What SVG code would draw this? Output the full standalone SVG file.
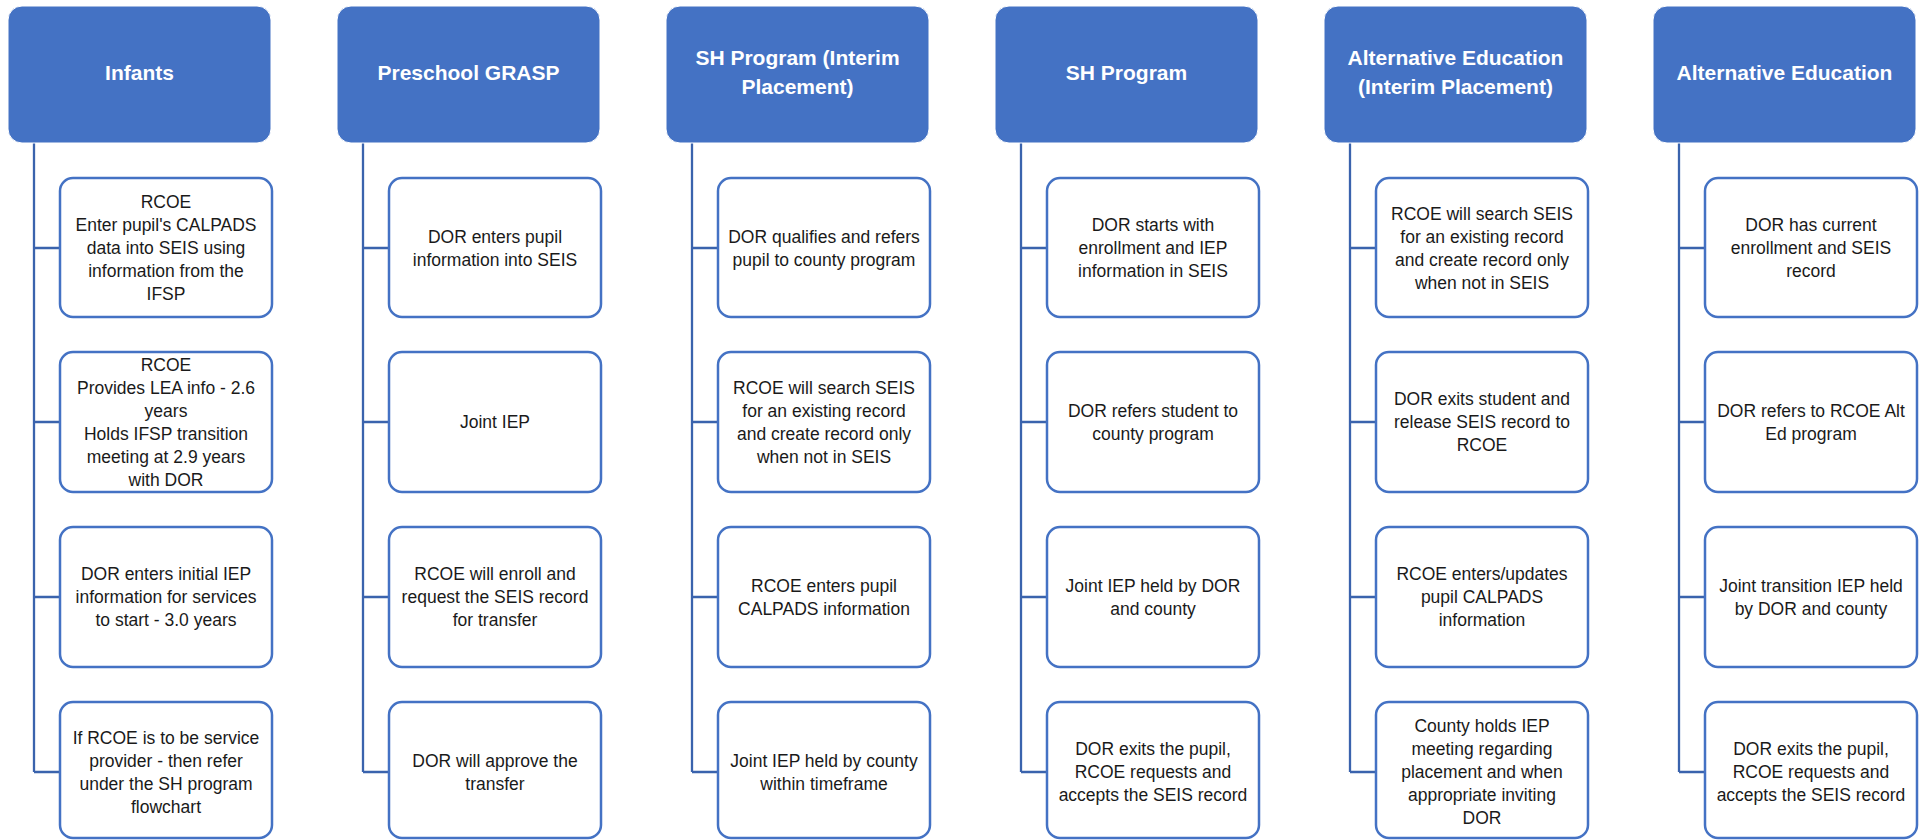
<svg xmlns="http://www.w3.org/2000/svg" width="1923" height="840" viewBox="0 0 1923 840">
<style>
.hdr{fill:#4472C4;stroke:#ffffff;stroke-width:1}
.box{fill:#ffffff;stroke:#4472C4;stroke-width:2.5}
.ht{font-family:"Liberation Sans",Arial,sans-serif;font-weight:bold;font-size:21px;fill:#ffffff;text-anchor:middle}
.bt{font-family:"Liberation Sans",Arial,sans-serif;font-size:17.5px;fill:#1a1a1a;text-anchor:middle}
.ln{fill:none;stroke:#3A63AD;stroke-width:2.3}
</style>
<rect width="1923" height="840" fill="#ffffff"/>
<g id="connectors">
<path class="ln" d="M34 143V772M34 248H60M34 422H60M34 597H60M34 772H60"/>
<path class="ln" d="M363 143V772M363 248H389M363 422H389M363 597H389M363 772H389"/>
<path class="ln" d="M692 143V772M692 248H718M692 422H718M692 597H718M692 772H718"/>
<path class="ln" d="M1021 143V772M1021 248H1047M1021 422H1047M1021 597H1047M1021 772H1047"/>
<path class="ln" d="M1350 143V772M1350 248H1376M1350 422H1376M1350 597H1376M1350 772H1376"/>
<path class="ln" d="M1679 143V772M1679 248H1705M1679 422H1705M1679 597H1705M1679 772H1705"/>
</g>
<!-- Column 1 -->
<g id="h1"><rect class="hdr" x="8" y="6" width="263" height="137" rx="14"/><text class="ht" x="139.5" y="80">Infants</text></g>
<g id="c1n1"><rect class="box" x="60" y="178" width="212" height="139" rx="13"/><text class="bt" x="166" y="208"><tspan x="166">RCOE</tspan><tspan x="166" dy="23">Enter pupil's CALPADS</tspan><tspan x="166" dy="23">data into SEIS using</tspan><tspan x="166" dy="23">information from the</tspan><tspan x="166" dy="23">IFSP</tspan></text></g>
<g id="c1n2"><rect class="box" x="60" y="352" width="212" height="140" rx="13"/><text class="bt" x="166" y="370.5"><tspan x="166">RCOE</tspan><tspan x="166" dy="23">Provides LEA info - 2.6</tspan><tspan x="166" dy="23">years</tspan><tspan x="166" dy="23">Holds IFSP transition</tspan><tspan x="166" dy="23">meeting at 2.9 years</tspan><tspan x="166" dy="23">with DOR</tspan></text></g>
<g id="c1n3"><rect class="box" x="60" y="527" width="212" height="140" rx="13"/><text class="bt" x="166" y="580"><tspan x="166">DOR enters initial IEP</tspan><tspan x="166" dy="23">information for services</tspan><tspan x="166" dy="23">to start - 3.0 years</tspan></text></g>
<g id="c1n4"><rect class="box" x="60" y="702" width="212" height="136" rx="13"/><text class="bt" x="166" y="743.5"><tspan x="166">If RCOE is to be service</tspan><tspan x="166" dy="23">provider - then refer</tspan><tspan x="166" dy="23">under the SH program</tspan><tspan x="166" dy="23">flowchart</tspan></text></g>
<!-- Column 2 -->
<g id="h2"><rect class="hdr" x="337" y="6" width="263" height="137" rx="14"/><text class="ht" x="468.5" y="80">Preschool GRASP</text></g>
<g id="c2n1"><rect class="box" x="389" y="178" width="212" height="139" rx="13"/><text class="bt" x="495" y="242.5"><tspan x="495">DOR enters pupil</tspan><tspan x="495" dy="23">information into SEIS</tspan></text></g>
<g id="c2n2"><rect class="box" x="389" y="352" width="212" height="140" rx="13"/><text class="bt" x="495" y="428">Joint IEP</text></g>
<g id="c2n3"><rect class="box" x="389" y="527" width="212" height="140" rx="13"/><text class="bt" x="495" y="580"><tspan x="495">RCOE will enroll and</tspan><tspan x="495" dy="23">request the SEIS record</tspan><tspan x="495" dy="23">for transfer</tspan></text></g>
<g id="c2n4"><rect class="box" x="389" y="702" width="212" height="136" rx="13"/><text class="bt" x="495" y="766.5"><tspan x="495">DOR will approve the</tspan><tspan x="495" dy="23">transfer</tspan></text></g>
<!-- Column 3 -->
<g id="h3"><rect class="hdr" x="666" y="6" width="263" height="137" rx="14"/><text class="ht" x="797.5" y="65"><tspan x="797.5">SH Program (Interim</tspan><tspan x="797.5" dy="29">Placement)</tspan></text></g>
<g id="c3n1"><rect class="box" x="718" y="178" width="212" height="139" rx="13"/><text class="bt" x="824" y="242.5"><tspan x="824">DOR qualifies and refers</tspan><tspan x="824" dy="23">pupil to county program</tspan></text></g>
<g id="c3n2"><rect class="box" x="718" y="352" width="212" height="140" rx="13"/><text class="bt" x="824" y="393.5"><tspan x="824">RCOE will search SEIS</tspan><tspan x="824" dy="23">for an existing record</tspan><tspan x="824" dy="23">and create record only</tspan><tspan x="824" dy="23">when not in SEIS</tspan></text></g>
<g id="c3n3"><rect class="box" x="718" y="527" width="212" height="140" rx="13"/><text class="bt" x="824" y="591.5"><tspan x="824">RCOE enters pupil</tspan><tspan x="824" dy="23">CALPADS information</tspan></text></g>
<g id="c3n4"><rect class="box" x="718" y="702" width="212" height="136" rx="13"/><text class="bt" x="824" y="766.5"><tspan x="824">Joint IEP held by county</tspan><tspan x="824" dy="23">within timeframe</tspan></text></g>
<!-- Column 4 -->
<g id="h4"><rect class="hdr" x="995" y="6" width="263" height="137" rx="14"/><text class="ht" x="1126.5" y="80">SH Program</text></g>
<g id="c4n1"><rect class="box" x="1047" y="178" width="212" height="139" rx="13"/><text class="bt" x="1153" y="231"><tspan x="1153">DOR starts with</tspan><tspan x="1153" dy="23">enrollment and IEP</tspan><tspan x="1153" dy="23">information in SEIS</tspan></text></g>
<g id="c4n2"><rect class="box" x="1047" y="352" width="212" height="140" rx="13"/><text class="bt" x="1153" y="416.5"><tspan x="1153">DOR refers student to</tspan><tspan x="1153" dy="23">county program</tspan></text></g>
<g id="c4n3"><rect class="box" x="1047" y="527" width="212" height="140" rx="13"/><text class="bt" x="1153" y="591.5"><tspan x="1153">Joint IEP held by DOR</tspan><tspan x="1153" dy="23">and county</tspan></text></g>
<g id="c4n4"><rect class="box" x="1047" y="702" width="212" height="136" rx="13"/><text class="bt" x="1153" y="755"><tspan x="1153">DOR exits the pupil,</tspan><tspan x="1153" dy="23">RCOE requests and</tspan><tspan x="1153" dy="23">accepts the SEIS record</tspan></text></g>
<!-- Column 5 -->
<g id="h5"><rect class="hdr" x="1324" y="6" width="263" height="137" rx="14"/><text class="ht" x="1455.5" y="65"><tspan x="1455.5">Alternative Education</tspan><tspan x="1455.5" dy="29">(Interim Placement)</tspan></text></g>
<g id="c5n1"><rect class="box" x="1376" y="178" width="212" height="139" rx="13"/><text class="bt" x="1482" y="219.5"><tspan x="1482">RCOE will search SEIS</tspan><tspan x="1482" dy="23">for an existing record</tspan><tspan x="1482" dy="23">and create record only</tspan><tspan x="1482" dy="23">when not in SEIS</tspan></text></g>
<g id="c5n2"><rect class="box" x="1376" y="352" width="212" height="140" rx="13"/><text class="bt" x="1482" y="405"><tspan x="1482">DOR exits student and</tspan><tspan x="1482" dy="23">release SEIS record to</tspan><tspan x="1482" dy="23">RCOE</tspan></text></g>
<g id="c5n3"><rect class="box" x="1376" y="527" width="212" height="140" rx="13"/><text class="bt" x="1482" y="580"><tspan x="1482">RCOE enters/updates</tspan><tspan x="1482" dy="23">pupil CALPADS</tspan><tspan x="1482" dy="23">information</tspan></text></g>
<g id="c5n4"><rect class="box" x="1376" y="702" width="212" height="136" rx="13"/><text class="bt" x="1482" y="732"><tspan x="1482">County holds IEP</tspan><tspan x="1482" dy="23">meeting regarding</tspan><tspan x="1482" dy="23">placement and when</tspan><tspan x="1482" dy="23">appropriate inviting</tspan><tspan x="1482" dy="23">DOR</tspan></text></g>
<!-- Column 6 -->
<g id="h6"><rect class="hdr" x="1653" y="6" width="263" height="137" rx="14"/><text class="ht" x="1784.5" y="80">Alternative Education</text></g>
<g id="c6n1"><rect class="box" x="1705" y="178" width="212" height="139" rx="13"/><text class="bt" x="1811" y="231"><tspan x="1811">DOR has current</tspan><tspan x="1811" dy="23">enrollment and SEIS</tspan><tspan x="1811" dy="23">record</tspan></text></g>
<g id="c6n2"><rect class="box" x="1705" y="352" width="212" height="140" rx="13"/><text class="bt" x="1811" y="416.5"><tspan x="1811">DOR refers to RCOE Alt</tspan><tspan x="1811" dy="23">Ed program</tspan></text></g>
<g id="c6n3"><rect class="box" x="1705" y="527" width="212" height="140" rx="13"/><text class="bt" x="1811" y="591.5"><tspan x="1811">Joint transition IEP held</tspan><tspan x="1811" dy="23">by DOR and county</tspan></text></g>
<g id="c6n4"><rect class="box" x="1705" y="702" width="212" height="136" rx="13"/><text class="bt" x="1811" y="755"><tspan x="1811">DOR exits the pupil,</tspan><tspan x="1811" dy="23">RCOE requests and</tspan><tspan x="1811" dy="23">accepts the SEIS record</tspan></text></g>
</svg>
